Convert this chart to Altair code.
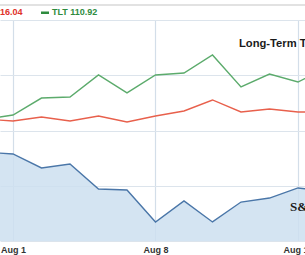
import altair as alt
import pandas as pd

# trading-day index (0 = Aug 1) and values (index units)
days = ["Jul 29", "Aug 1", "Aug 2", "Aug 3", "Aug 4", "Aug 5", "Aug 8", "Aug 9",
        "Aug 10", "Aug 11", "Aug 12", "Aug 15", "Aug 16"]
day_index = list(range(-1, 12))
tlt = [8.80, 9.12, 10.35, 10.43, 12.02, 10.72, 12.02, 12.16, 13.47, 11.15, 12.09, 11.51, 12.53]
mid = [8.83, 8.69, 8.98, 8.69, 9.05, 8.62, 9.05, 9.41, 10.21, 9.34, 9.56, 9.34, 9.34]
spx = [6.44, 6.30, 5.29, 5.57, 3.76, 3.69, 1.38, 2.90, 1.38, 2.82, 3.11, 3.84, 3.62]

tick_values = [0, 5, 10]
tick_labels = ["Aug 1", "Aug 8", "Aug 15"]
grid_values = [0, 2, 4, 6, 8, 10, 12, 14, 16]

ann_text = ["Long-Term Treasuries", "S&P 500"]
ann_x = [7.93, 9.72]
ann_y = [14.05, 2.17]

df = pd.DataFrame({"day": days, "i": day_index, "tlt": tlt, "mid": mid, "spx": spx})
ann = pd.DataFrame({"t": ann_text, "i": ann_x, "v": ann_y})

label_expr = " : ".join(
    [f"datum.value == {v} ? '{l}'" for v, l in zip(tick_values, tick_labels)]
) + " : ''"

xs = alt.Scale(domain=[-0.456, 10.246], nice=False, zero=False)
ys = alt.Scale(domain=[0, 16], nice=False)

x_enc = alt.X("i:Q", scale=xs, axis=alt.Axis(
    values=tick_values, labelExpr=label_expr, grid=True, gridColor="#d3dee9",
    gridWidth=1.2, domain=False, ticks=False, labelFontWeight="bold",
    labelFontSize=9, labelColor="#333333", labelPadding=4, labelFlush=False,
    labelFont="Liberation Sans", title=None))
y_axis = alt.Axis(values=grid_values, grid=True, gridColor="#dce4ec", gridWidth=1,
                  labels=False, ticks=False, domain=False, title=None)

base = alt.Chart(df)
area = base.mark_area(color="#cddff0", opacity=0.85, clip=True).encode(
    x=x_enc, y=alt.Y("spx:Q", scale=ys, axis=y_axis))
spx_line = base.mark_line(color="#4a76a8", strokeWidth=1.4, clip=True).encode(
    x="i:Q", y="spx:Q")
mid_line = base.mark_line(color="#e8604c", strokeWidth=1.4, clip=True).encode(
    x="i:Q", y="mid:Q")
tlt_line = base.mark_line(color="#5cab6c", strokeWidth=1.4, clip=True).encode(
    x="i:Q", y="tlt:Q")

ann_long = alt.Chart(ann.iloc[[0]]).mark_text(
    align="left", baseline="alphabetic", fontSize=11.2, fontWeight="bold",
    font="Liberation Sans", color="#1a1a1a"
).encode(x="i:Q", y="v:Q", text="t:N")
ann_spx = alt.Chart(ann.iloc[[1]]).mark_text(
    align="left", baseline="alphabetic", fontSize=13, fontWeight="bold",
    font="Liberation Serif", color="#1a1a1a"
).encode(x="i:Q", y="v:Q", text="t:N")

top_rule = alt.Chart(df.iloc[[0]]).mark_rule(color="#d8d8d8", strokeWidth=1.5).encode(
    x=alt.value(0), x2=alt.value(305), y=alt.value(-15))
leg_red = alt.Chart(pd.DataFrame({"t": ["16.04"]})).mark_text(
    align="left", baseline="alphabetic", fontSize=9, fontWeight="bold",
    font="Liberation Sans", color="#e0302a"
).encode(x=alt.value(0), y=alt.value(-5), text="t:N")
leg_swatch = alt.Chart(df.iloc[[0]]).mark_rect(color="#2e8b3e").encode(
    x=alt.value(41), x2=alt.value(49), y=alt.value(-8.5), y2=alt.value(-6))
leg_green = alt.Chart(pd.DataFrame({"t": ["TLT 110.92"]})).mark_text(
    align="left", baseline="alphabetic", fontSize=9, fontWeight="bold",
    font="Liberation Sans", color="#2e8b3e"
).encode(x=alt.value(52), y=alt.value(-5), text="t:N")

chart = alt.layer(
    area, spx_line, mid_line, tlt_line, ann_long, ann_spx,
    top_rule, leg_red, leg_swatch, leg_green
).properties(
    width=305, height=221,
    padding={"left": 0, "top": 20, "right": 0, "bottom": 14},
    autosize=alt.AutoSizeParams(type="none"),
    background="white",
).configure_view(stroke=None)

chart.save("out.html", embed_options={"renderer": "svg", "actions": False})
